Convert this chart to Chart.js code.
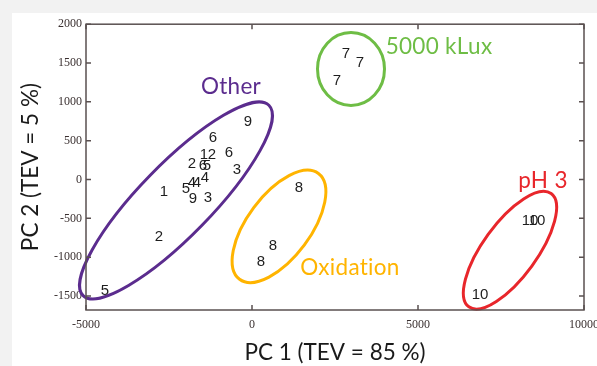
<!DOCTYPE html>
<html>
<head>
<meta charset="utf-8">
<script src="https://cdn.jsdelivr.net/npm/chart.js@4.4.1/dist/chart.umd.min.js"></script>
<style>
  html, body { margin: 0; padding: 0; background: #f2f2f2; overflow: hidden; }
  #card { position: absolute; left: 12px; top: 13px; width: 585px; height: 353px; background: #fff; }
</style>
</head>
<body>
<div id="card"><canvas id="pca" width="585" height="353"></canvas></div>
<script>
"use strict";

// sample ids shown as the point markers
var sampleIds = ["5", "2", "1", "5", "4", "4", "9", "3", "4", "2", "1", "2", "6", "5", "6", "6", "3", "9",
  "8", "8", "8",
  "7", "7", "7",
  "10", "10", "10"];
var pc1Scores = [-4430, -2800, -2650, -1988, -1807, -1657, -1777, -1325, -1416, -1807, -1446, -1205, -1476, -1355, -1175, -693, -452, -120,
  1416, 633, 271,
  2831, 3253, 2560,
  8373, 8584, 6867];
var pc2Scores = [-1435, -735, -154, -115, -38, -38, -244, -230, 26, 205, 320, 320, 180, 180, 538, 346, 128, 744,
  -103, -859, -1064,
  1615, 1500, 1270,
  -526, -526, -1487];

var xTickValues = [-5000, 0, 5000, 10000];
var yTickValues = [-1500, -1000, -500, 0, 500, 1000, 1500, 2000];

// group outlines (centre in data units, radii in px)
var groupShapes = [
  { label: "Other", color: "#5b2c8e", cx: -2289, cy: -269, rx: 133, ry: 36, angle: -45.7, lx: -633, ly: 1192 },
  { label: "5000 kLux", color: "#6ebd45", cx: 2982, cy: 1423, rx: 33.5, ry: 36.5, angle: 0, lx: 5633, ly: 1705 },
  { label: "Oxidation", color: "#ffb400", cx: 813, cy: -603, rx: 66, ry: 31.5, angle: -53.3, lx: 2952, ly: -1141 },
  { label: "pH 3", color: "#e8262b", cx: 7771, cy: -910, rx: 70, ry: 27, angle: -54, lx: 8765, ly: -13 }
];

var axisColor = "#5a5050";
var tickFont = { family: "'Liberation Serif', 'Times New Roman', serif", size: 12 };
var titleFont = { family: "Lato, 'Open Sans', sans-serif", size: 22.5 };

function plainTick(v) { return String(v); }

var frameTicks = {
  id: "frameTicks",
  afterDraw: function (chart) {
    var ctx = chart.ctx, a = chart.chartArea;
    var xs = chart.scales.x, ys = chart.scales.y;
    ctx.save();
    ctx.strokeStyle = axisColor;
    ctx.lineWidth = 1.5;
    ctx.strokeRect(a.left, a.top, a.right - a.left, a.bottom - a.top);
    ctx.beginPath();
    xTickValues.forEach(function (v) {
      var px = xs.getPixelForValue(v);
      ctx.moveTo(px, a.bottom); ctx.lineTo(px, a.bottom - 5);
      ctx.moveTo(px, a.top); ctx.lineTo(px, a.top + 5);
    });
    yTickValues.forEach(function (v) {
      var py = ys.getPixelForValue(v);
      ctx.moveTo(a.left, py); ctx.lineTo(a.left + 5, py);
      ctx.moveTo(a.right, py); ctx.lineTo(a.right - 5, py);
    });
    ctx.stroke();
    ctx.restore();
  }
};

var groupOutlines = {
  id: "groupOutlines",
  afterDatasetsDraw: function (chart) {
    var ctx = chart.ctx;
    var xs = chart.scales.x, ys = chart.scales.y;
    ctx.save();
    groupShapes.forEach(function (g) {
      ctx.beginPath();
      ctx.ellipse(xs.getPixelForValue(g.cx), ys.getPixelForValue(g.cy), g.rx, g.ry, g.angle * Math.PI / 180, 0, 2 * Math.PI);
      ctx.strokeStyle = g.color;
      ctx.lineWidth = 3;
      ctx.stroke();
      ctx.fillStyle = g.color;
      ctx.font = "22.5px Lato, 'Open Sans', sans-serif";
      ctx.letterSpacing = "0.3px"; // keeps Lato from joining "ti"
      ctx.textAlign = "center";
      ctx.textBaseline = "middle";
      ctx.fillText(g.label, xs.getPixelForValue(g.lx), ys.getPixelForValue(g.ly));
    });
    ctx.restore();
  }
};

var sampleLabels = {
  id: "sampleLabels",
  afterDatasetsDraw: function (chart) {
    var ctx = chart.ctx;
    var meta = chart.getDatasetMeta(0);
    ctx.save();
    ctx.fillStyle = "#1e1e1e";
    ctx.font = "15px 'Liberation Sans Narrow', 'Liberation Sans', Arial, sans-serif";
    ctx.textAlign = "center";
    ctx.textBaseline = "middle";
    meta.data.forEach(function (pt, i) {
      ctx.fillText(sampleIds[i], pt.x, pt.y);
    });
    ctx.restore();
  }
};

new Chart(document.getElementById("pca"), {
  type: "scatter",
  data: {
    datasets: [{
      data: pc1Scores.map(function (x, i) { return { x: x, y: pc2Scores[i] }; }),
      pointRadius: 0,
      pointHoverRadius: 0
    }]
  },
  options: {
    responsive: false,
    animation: false,
    layout: { padding: { left: 0, top: 11, right: 13, bottom: 0 } },
    plugins: { legend: { display: false }, tooltip: { enabled: false } },
    scales: {
      x: {
        type: "linear",
        min: -5000,
        max: 10000,
        afterBuildTicks: function (s) { s.ticks = xTickValues.map(function (v) { return { value: v }; }); },
        afterFit: function (s) { s.height = 56; s.paddingLeft = 0; s.paddingRight = 0; },
        grid: { display: false, drawTicks: false },
        border: { display: false },
        ticks: { font: tickFont, color: "#3a3030", padding: 8, maxRotation: 0, autoSkip: false, callback: plainTick },
        title: { display: true, text: "PC 1 (TEV = 85 %)", font: titleFont, color: "#1a1a1a", padding: 0 }
      },
      y: {
        type: "linear",
        min: -1680,
        max: 2000,
        afterBuildTicks: function (s) { s.ticks = yTickValues.map(function (v) { return { value: v }; }); },
        afterFit: function (s) { s.width = 74; },
        grid: { display: false, drawTicks: false },
        border: { display: false },
        ticks: { font: tickFont, color: "#3a3030", padding: 4, autoSkip: false, callback: plainTick },
        title: { display: true, text: "PC 2 (TEV = 5 %)", font: titleFont, color: "#1a1a1a", padding: { top: 5, bottom: 0 } }
      }
    }
  },
  plugins: [frameTicks, groupOutlines, sampleLabels]
});
</script>
</body>
</html>
